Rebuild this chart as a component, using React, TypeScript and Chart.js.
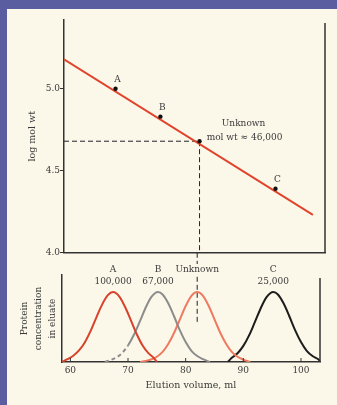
import React, { useEffect, useRef } from 'react';
import { Chart, registerables } from 'chart.js';
Chart.register(...registerables);

// ---- data ----
const elutionTicks = [60, 70, 80, 90, 100];
const logTicks = [4.0, 4.5, 5.0];
const standardNames = ['A', 'B', 'C'];
const standardMolWt = ['100,000', '67,000', '25,000'];
const standardElution = [67.4, 75.2, 95.2];
const standardLogMolWt = [5.0, 4.83, 4.39];
const unknownElution = 82.0;
const unknownLogMolWt = 4.68;
const fitElution = [58.45, 101.7];
const fitLogMolWt = [5.18, 4.23];
const unknownGuideLow = [1.56, 0.57];

const curveAX = [58.5, 59.5, 60.5, 61.5, 62.5, 63.5, 64.5, 65.5, 66.5, 67.4, 68.5, 69.5, 70.5, 71.5, 72.5, 73.5, 74.5, 75.0];
const curveAY = [0, 0.04, 0.09, 0.165, 0.28, 0.44, 0.635, 0.82, 0.955, 1.0, 0.935, 0.785, 0.595, 0.4, 0.24, 0.13, 0.055, 0];
const curveBX = [66.0, 67, 68, 69, 70, 71, 72, 73, 74, 75.2, 76, 77, 78, 79, 80, 81, 82, 83, 84.2];
const curveBY = [0, 0.03, 0.065, 0.13, 0.235, 0.385, 0.57, 0.765, 0.923, 1.0, 0.965, 0.835, 0.65, 0.452, 0.285, 0.16, 0.085, 0.04, 0];
const curveUX = [72.1, 73, 74, 75, 76, 77, 78, 79, 80, 81, 82, 83, 84, 85, 86, 87, 88, 89, 90, 91.2];
const curveUY = [0, 0.015, 0.035, 0.075, 0.145, 0.26, 0.418, 0.61, 0.801, 0.946, 1.0, 0.946, 0.801, 0.61, 0.418, 0.26, 0.145, 0.075, 0.035, 0];
const curveCX = [87.3, 88, 89, 90, 91, 92, 93, 94, 95.2, 96, 97, 98, 99, 100, 101, 102, 103, 103.5];
const curveCY = [0, 0.06, 0.125, 0.23, 0.38, 0.57, 0.765, 0.923, 1.0, 0.965, 0.835, 0.65, 0.452, 0.285, 0.16, 0.085, 0.04, 0];

const FONT = 'DejaVu Serif';
const INK = '#3a3a3a';
const AXIS = '#333333';
const CREAM = '#fbf8ea';

const pts = (xs: number[], ys: number[]) => xs.map((x, i) => ({ x, y: ys[i] }));

export default function App() {
  const topRef = useRef<HTMLCanvasElement>(null);
  const botRef = useRef<HTMLCanvasElement>(null);

  useEffect(() => {
    const topPlugin = {
      id: 'topDecor',
      afterDraw(chart: any) {
        const { ctx, chartArea, scales } = chart;
        ctx.save();
        ctx.strokeStyle = AXIS;
        ctx.lineWidth = 1.5;
        ctx.beginPath();
        ctx.moveTo(chartArea.right, chartArea.top + 3);
        ctx.lineTo(chartArea.right, chartArea.bottom);
        ctx.stroke();
        ctx.fillStyle = INK;
        ctx.font = `9px "${FONT}"`;
        ctx.textAlign = 'center';
        ctx.textBaseline = 'middle';
        standardNames.forEach((n, i) => {
          const px = scales.x.getPixelForValue(standardElution[i]);
          const py = scales.y.getPixelForValue(standardLogMolWt[i]);
          ctx.fillText(n, px + 2, py - 9);
        });
        const ux = scales.x.getPixelForValue(unknownElution);
        const uy = scales.y.getPixelForValue(unknownLogMolWt);
        ctx.fillText('Unknown', ux + 44, uy - 18);
        ctx.fillText('mol wt \u2248 46,000', ux + 45, uy - 4);
        ctx.restore();
      },
    };

    const top = new Chart(topRef.current!, {
      type: 'scatter',
      data: {
        datasets: [
          {
            data: pts(standardElution, standardLogMolWt).concat([{ x: unknownElution, y: unknownLogMolWt }]),
            pointRadius: 2.2,
            pointBackgroundColor: '#111',
            pointBorderWidth: 0,
            showLine: false,
            order: 0,
          },
          {
            data: pts(fitElution, fitLogMolWt),
            showLine: true,
            borderColor: '#e0452c',
            borderWidth: 2,
            pointRadius: 0,
            order: 1,
          },
          {
            data: [{ x: 58.45, y: unknownLogMolWt }, { x: unknownElution, y: unknownLogMolWt }],
            showLine: true,
            borderColor: '#222',
            borderWidth: 1,
            borderDash: [5, 3],
            pointRadius: 0,
            order: 2,
          },
          {
            data: [{ x: unknownElution, y: unknownLogMolWt }, { x: unknownElution, y: 4.0 }],
            showLine: true,
            borderColor: '#222',
            borderWidth: 1,
            borderDash: [5, 3],
            pointRadius: 0,
            order: 2,
          },
        ],
      },
      options: {
        animation: false,
        responsive: false,
        layout: { padding: { left: 0, top: 20, right: 12, bottom: 5 } },
        plugins: { legend: { display: false }, tooltip: { enabled: false } },
        scales: {
          x: {
            type: 'linear',
            min: 58.45,
            max: 103.8,
            ticks: { display: false },
            grid: { display: false, drawTicks: false },
            border: { display: true, color: AXIS, width: 1.5 },
            afterFit: (s: any) => { s.height = 0; },
          },
          y: {
            type: 'linear',
            min: 4.0,
            max: 5.42,
            afterBuildTicks: (s: any) => { s.ticks = logTicks.map((v) => ({ value: v })); },
            ticks: {
              color: INK,
              font: { family: FONT, size: 9 },
              padding: 0,
              callback: (v: any) => Number(v).toFixed(1),
            },
            grid: { drawOnChartArea: false, drawTicks: true, tickLength: 4, color: AXIS },
            border: { display: true, color: AXIS, width: 1.5 },
            title: {
              display: true,
              text: 'log mol wt',
              color: INK,
              font: { family: FONT, size: 9.5, lineHeight: 1.2 },
              padding: { top: 27, bottom: 0 },
            },
            afterFit: (s: any) => { s.width = 64; },
          },
        },
      },
      plugins: [topPlugin],
    });

    const botPlugin = {
      id: 'botDecor',
      afterDraw(chart: any) {
        const { ctx, chartArea, scales } = chart;
        ctx.save();
        ctx.strokeStyle = AXIS;
        ctx.lineWidth = 1.5;
        ctx.beginPath();
        ctx.moveTo(chartArea.right, chartArea.top + 3);
        ctx.lineTo(chartArea.right, chartArea.bottom);
        ctx.stroke();
        ctx.lineWidth = 1;
        scales.x.ticks.forEach((t: any) => {
          const px = scales.x.getPixelForValue(t.value);
          ctx.beginPath();
          ctx.moveTo(px, chartArea.bottom);
          ctx.lineTo(px, chartArea.bottom - 4);
          ctx.stroke();
        });
        ctx.fillStyle = INK;
        ctx.font = `9px "${FONT}"`;
        ctx.textAlign = 'center';
        ctx.textBaseline = 'middle';
        standardNames.forEach((n, i) => {
          const px = scales.x.getPixelForValue(standardElution[i]);
          ctx.fillText(n, px, chartArea.top - 5);
          ctx.fillText(standardMolWt[i], px, chartArea.top + 7);
        });
        const ux = scales.x.getPixelForValue(unknownElution);
        const w = ctx.measureText('Unknown').width;
        ctx.fillStyle = CREAM;
        ctx.fillRect(ux - w / 2 - 1, chartArea.top - 11, w + 2, 11);
        ctx.fillStyle = INK;
        ctx.fillText('Unknown', ux, chartArea.top - 5);
        ctx.restore();
      },
    };

    const bot = new Chart(botRef.current!, {
      type: 'scatter',
      data: {
        datasets: [
          {
            data: pts(curveAX, curveAY),
            showLine: true,
            borderColor: '#d8412b',
            borderWidth: 2,
            pointRadius: 0,
            cubicInterpolationMode: 'monotone',
          },
          {
            data: pts(curveBX, curveBY),
            showLine: true,
            borderColor: '#8c8c8c',
            borderWidth: 2,
            pointRadius: 0,
            cubicInterpolationMode: 'monotone',
            segment: { borderDash: (c: any) => (c.p0.parsed.x < 69.5 ? [4, 3] : undefined) },
          },
          {
            data: pts(curveUX, curveUY),
            showLine: true,
            borderColor: '#ee7a60',
            borderWidth: 2,
            pointRadius: 0,
            cubicInterpolationMode: 'monotone',
          },
          {
            data: pts(curveCX, curveCY),
            showLine: true,
            borderColor: '#1c1c1c',
            borderWidth: 2,
            pointRadius: 0,
            cubicInterpolationMode: 'monotone',
          },
          {
            data: [{ x: unknownElution, y: unknownGuideLow[0] }, { x: unknownElution, y: unknownGuideLow[1] }],
            showLine: true,
            borderColor: '#222',
            borderWidth: 1,
            borderDash: [5, 3],
            pointRadius: 0,
            clip: false,
          },
        ],
      },
      options: {
        animation: false,
        responsive: false,
        layout: { padding: { left: 0, top: 25, right: 17, bottom: 0 } },
        plugins: { legend: { display: false }, tooltip: { enabled: false } },
        scales: {
          x: {
            type: 'linear',
            min: 58.55,
            max: 103.3,
            afterBuildTicks: (s: any) => { s.ticks = elutionTicks.map((v) => ({ value: v })); },
            ticks: { color: INK, font: { family: FONT, size: 9 }, padding: 3 },
            grid: { display: false, drawTicks: false },
            border: { display: true, color: AXIS, width: 1.5 },
            title: {
              display: true,
              text: 'Elution volume, ml',
              color: INK,
              font: { family: FONT, size: 9.5, lineHeight: 1.2 },
              padding: { top: 0, bottom: 14 },
            },
            afterFit: (s: any) => { s.height = 43; },
          },
          y: {
            type: 'linear',
            min: 0,
            max: 1.243,
            ticks: { display: false },
            grid: { display: false, drawTicks: false },
            border: { display: true, color: AXIS, width: 1.5 },
            title: {
              display: true,
              text: ['Protein', 'concentration', 'in eluate'],
              color: INK,
              font: { family: FONT, size: 9, lineHeight: 1.55 },
              padding: { top: 18, bottom: 0 },
            },
            afterFit: (s: any) => { s.width = 62; },
          },
        },
      },
      plugins: [botPlugin],
    });

    return () => {
      top.destroy();
      bot.destroy();
    };
  }, []);

  return (
    <div style={{ position: 'absolute', left: 0, top: 0, width: 337, height: 405, background: '#5a5d9f', overflow: 'hidden' }}>
      <div style={{ position: 'absolute', left: 7, top: 9, width: 330, height: 396, background: CREAM }} />
      <canvas ref={topRef} width={337} height={258} style={{ position: 'absolute', left: 0, top: 0 }} />
      <canvas ref={botRef} width={337} height={155} style={{ position: 'absolute', left: 0, top: 250 }} />
    </div>
  );
}
